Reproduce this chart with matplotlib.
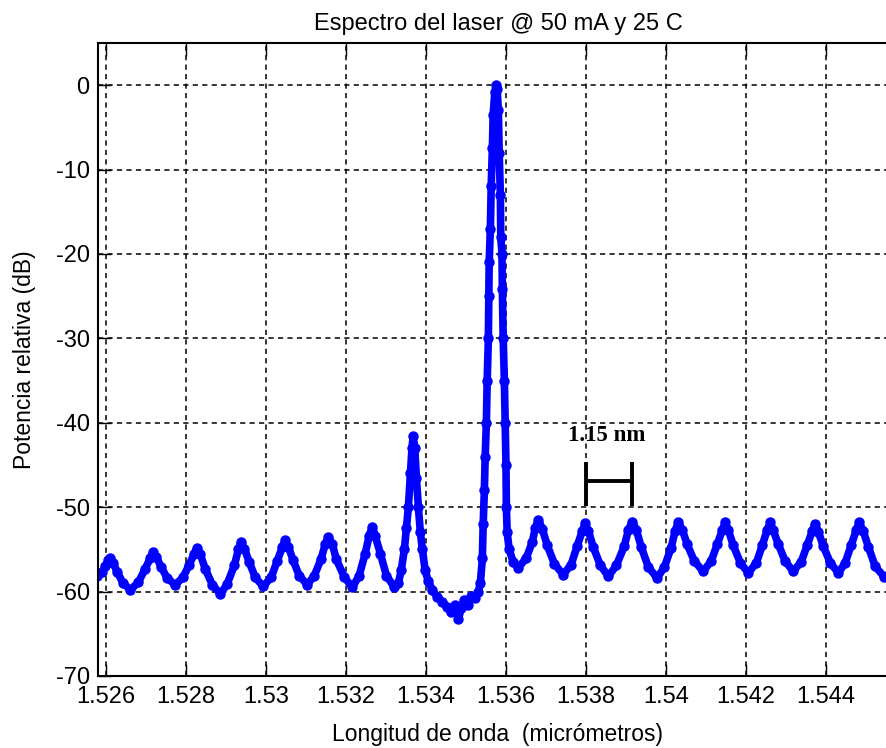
import matplotlib
matplotlib.use("Agg")
import matplotlib.pyplot as plt
from matplotlib.ticker import FuncFormatter

plt.rcParams['font.family'] = ['Liberation Sans', 'DejaVu Sans']
plt.rcParams['axes.unicode_minus'] = False

# espectro medido: longitud de onda (nm) y potencia relativa (dB)
wl_nm = [
    1525.78, 1525.91, 1525.98, 1526.06, 1526.11, 1526.18, 1526.28, 1526.43,
    1526.61, 1526.81, 1526.98, 1527.11, 1527.18, 1527.26, 1527.38, 1527.53,
    1527.73, 1527.93, 1528.08, 1528.21, 1528.28, 1528.36, 1528.48, 1528.66,
    1528.86, 1529.03, 1529.21, 1529.31, 1529.38, 1529.46, 1529.58, 1529.73,
    1529.93, 1530.13, 1530.28, 1530.41, 1530.48, 1530.56, 1530.68, 1530.83,
    1531.03, 1531.21, 1531.38, 1531.48, 1531.56, 1531.66, 1531.76, 1531.96,
    1532.16, 1532.33, 1532.48, 1532.58, 1532.66, 1532.73, 1532.86, 1533.01,
    1533.21, 1533.31, 1533.38, 1533.46, 1533.51, 1533.56, 1533.61, 1533.65,
    1533.68, 1533.72, 1533.76, 1533.81, 1533.86, 1533.91, 1533.98, 1534.06,
    1534.16, 1534.28, 1534.41, 1534.53, 1534.63, 1534.73, 1534.81, 1534.88,
    1534.96, 1535.06, 1535.13, 1535.23, 1535.31, 1535.36, 1535.41, 1535.43,
    1535.46, 1535.48, 1535.51, 1535.53, 1535.56, 1535.57, 1535.58, 1535.61,
    1535.63, 1535.66, 1535.68, 1535.72, 1535.76, 1535.78, 1535.81, 1535.83,
    1535.86, 1535.87, 1535.90, 1535.91, 1535.93, 1535.96, 1535.98, 1536.00,
    1536.01, 1536.03, 1536.08, 1536.18, 1536.31, 1536.51, 1536.66, 1536.73,
    1536.81, 1536.91, 1537.03, 1537.21, 1537.43, 1537.63, 1537.78, 1537.91,
    1537.98, 1538.06, 1538.18, 1538.36, 1538.56, 1538.76, 1538.96, 1539.06,
    1539.16, 1539.26, 1539.38, 1539.56, 1539.78, 1539.96, 1540.13, 1540.23,
    1540.31, 1540.41, 1540.53, 1540.71, 1540.93, 1541.13, 1541.28, 1541.41,
    1541.48, 1541.56, 1541.68, 1541.86, 1542.06, 1542.26, 1542.41, 1542.53,
    1542.61, 1542.68, 1542.81, 1542.98, 1543.18, 1543.38, 1543.53, 1543.66,
    1543.73, 1543.81, 1543.93, 1544.11, 1544.31, 1544.48, 1544.63, 1544.76,
    1544.83, 1544.93, 1545.06, 1545.23, 1545.46, 1545.66,
]
pot_db = [
    -58.2, -57.7, -57.0, -56.3, -56.0, -56.6, -57.7, -59.0,
    -59.8, -58.9, -57.3, -56.0, -55.3, -55.9, -57.1, -58.4,
    -59.2, -58.3, -56.8, -55.5, -54.8, -55.6, -57.3, -59.2,
    -60.3, -59.1, -56.9, -55.0, -54.1, -54.9, -56.5, -58.3,
    -59.4, -58.3, -56.4, -54.7, -53.9, -54.7, -56.3, -58.1,
    -59.2, -58.1, -56.1, -54.4, -53.5, -54.4, -56.2, -58.3,
    -59.5, -58.1, -55.5, -53.4, -52.3, -53.4, -55.5, -58.1,
    -59.5, -59.0, -57.5, -55.0, -52.5, -50.0, -46.0, -43.0,
    -41.6, -43.0, -46.5, -50.0, -53.0, -55.0, -57.5, -58.8,
    -59.8, -60.6, -61.2, -61.8, -62.4, -61.6, -63.3, -62.0,
    -61.0, -61.6, -60.5, -60.8, -60.0, -59.0, -56.0, -52.0,
    -48.0, -44.0, -40.0, -35.0, -30.0, -25.0, -21.0, -17.0,
    -12.0, -7.5, -3.5, -0.8, 0.0, -0.5, -3.0, -8.0,
    -13.0, -18.0, -20.0, -24.2, -30.0, -35.0, -40.0, -45.0,
    -50.0, -53.0, -55.0, -56.5, -57.2, -56.0, -54.1, -52.5,
    -51.5, -52.6, -54.5, -56.7, -58.0, -56.8, -54.6, -52.8,
    -51.9, -52.8, -54.7, -56.9, -58.2, -56.9, -54.6, -52.7,
    -51.7, -52.7, -54.7, -57.1, -58.4, -57.1, -54.8, -52.8,
    -51.8, -52.7, -54.4, -56.4, -57.6, -56.4, -54.4, -52.7,
    -51.8, -52.7, -54.5, -56.6, -57.8, -56.6, -54.5, -52.7,
    -51.8, -52.7, -54.4, -56.4, -57.6, -56.5, -54.5, -52.8,
    -52.0, -52.9, -54.6, -56.6, -57.8, -56.6, -54.5, -52.7,
    -51.8, -52.8, -54.7, -57.0, -58.3, -57.5,
]

# separacion entre modos marcada sobre la grafica
fsr_ini_nm = 1538.00
fsr_fin_nm = 1539.15
fsr_texto = '1.15 nm'

xticks_um = [1.526, 1.528, 1.53, 1.532, 1.534, 1.536, 1.538, 1.54, 1.542, 1.544]
yticks_db = [-70, -60, -50, -40, -30, -20, -10, 0]

wl_um = [w / 1000.0 for w in wl_nm]

fig = plt.figure(figsize=(8.86, 7.48), dpi=100)
ax = fig.add_axes([0.1106, 0.0963, 0.9029, 0.8463])

ax.plot(wl_um, pot_db, color='#0000ff', lw=5.5, marker='o', ms=6.5,
        mec='#0000ff', mfc='#0000ff', solid_joinstyle='round',
        solid_capstyle='round')

# corchete del espaciado entre modos
x0 = fsr_ini_nm / 1000.0
x1 = fsr_fin_nm / 1000.0
ax.plot([x0, x0], [-44.6, -49.9], color='black', lw=2.8, solid_capstyle='butt')
ax.plot([x1, x1], [-44.6, -49.9], color='black', lw=2.8, solid_capstyle='butt')
ax.plot([x0, x1], [-46.9, -46.9], color='black', lw=2.8, solid_capstyle='butt')
ax.text((x0 + x1) / 2 - 0.00006, -41.5, fsr_texto, ha='center', va='center',
        fontsize=16.5, fontweight='bold', family=['Liberation Serif', 'DejaVu Serif'])

ax.set_xlim(1.5258, 1.5458)
ax.set_ylim(-70, 5)
ax.set_xticks(xticks_um)
ax.set_yticks(yticks_db)
ax.xaxis.set_major_formatter(FuncFormatter(lambda v, p: '%g' % round(v, 3)))
ax.yaxis.set_major_formatter(FuncFormatter(lambda v, p: '%g' % v))

ax.grid(True, color='black', lw=1.1, linestyle=(0, (3.4, 2.8)))
ax.tick_params(direction='in', length=9, width=1.0, labelsize=17,
               top=True, right=True, pad=7)
ax.tick_params(axis='y', pad=6)
for s in ax.spines.values():
    s.set_linewidth(1.5)

ax.set_title('Espectro del laser @ 50 mA y 25 C', fontsize=17, pad=9)
ax.set_xlabel('Longitud de onda  (micrómetros)', fontsize=16.5, labelpad=11)
ax.set_ylabel('Potencia relativa (dB)', fontsize=16.5, labelpad=14)

fig.savefig('out.png', dpi=100)
